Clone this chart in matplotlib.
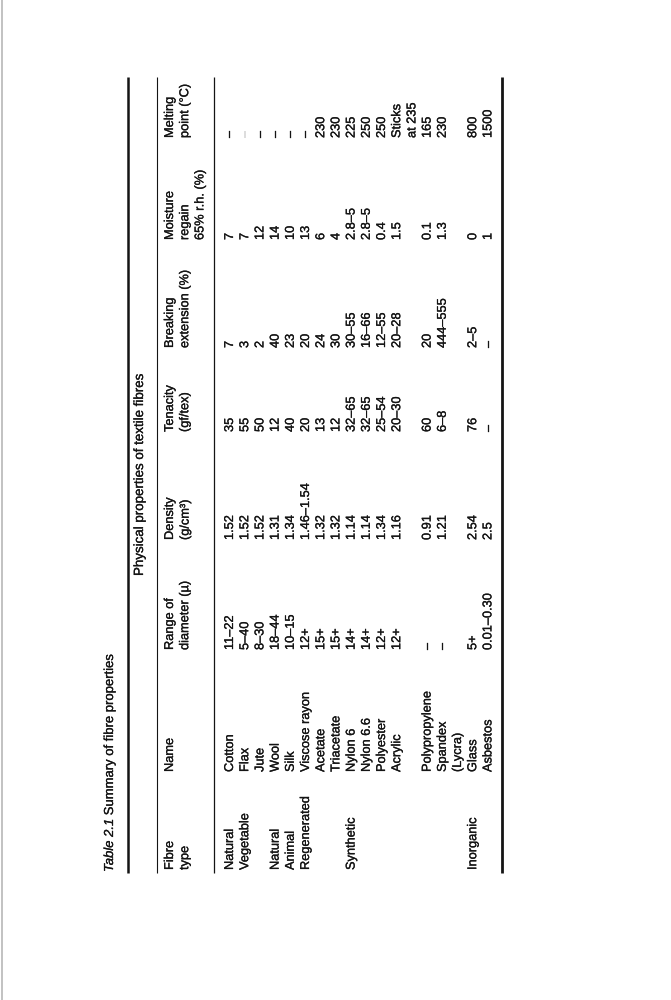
import matplotlib
matplotlib.use("Agg")
import matplotlib.pyplot as plt
import matplotlib.patheffects as pe

plt.rcParams['font.family'] = ['Liberation Sans', 'DejaVu Sans']

# Datos de la tabla (una entrada por fibra)
tipos = [("Natural\nVegetable", 0), ("Natural\nAnimal", 3), ("Regenerated", 5),
         ("Synthetic", 8), ("Inorganic", 14)]
nombres = ["Cotton", "Flax", "Jute", "Wool", "Silk", "Viscose rayon", "Acetate",
           "Triacetate", "Nylon 6", "Nylon 6.6", "Polyester", "Acrylic",
           "Polypropylene", "Spandex\n(Lycra)", "Glass", "Asbestos"]
diametro = ["11–22", "5–40", "8–30", "18–44", "10–15", "12+", "15+", "15+", "14+",
            "14+", "12+", "12+", "–", "–", "5+", "0.01–0.30"]
densidad = ["1.52", "1.52", "1.52", "1.31", "1.34", "1.46–1.54", "1.32", "1.32",
            "1.14", "1.14", "1.34", "1.16", "0.91", "1.21", "2.54", "2.5"]
tenacidad = ["35", "55", "50", "12", "40", "20", "13", "12", "32–65", "32–65",
             "25–54", "20–30", "60", "6–8", "76", "–"]
extension = ["7", "3", "2", "40", "23", "20", "24", "30", "30–55", "16–66",
             "12–55", "20–28", "20", "444–555", "2–5", "–"]
humedad = ["7", "7", "12", "14", "10", "13", "6", "4", "2.8–5", "2.8–5", "0.4",
           "1.5", "0.1", "1.3", "0", "1"]
fusion = ["–", "–", "–", "–", "–", "–", "230", "230", "225", "250", "250",
          "Sticks\nat 235", "165", "230", "800", "1500"]

encabezados = ["Fibre\ntype", "Name", "Range of\ndiameter (µ)", "Density\n(g/cm³)",
               "Tenacity\n(gf/tex)", "Breaking\nextension (%)",
               "Moisture\nregain\n65% r.h. (%)", "Melting\npoint (°C)"]
titulo_num = "Table 2.1"
titulo = "Summary of fibre properties"
subtitulo = "Physical properties of textile fibres"

# Geometria de la pagina (pixeles, tabla girada 90 grados)
col_inicio = [870, 772, 650, 540, 432, 348, 240, 138]
x_fila0 = 230
paso = 15.2
x_cab = 170
regla_arriba, regla_abajo = 77, 873
color = '#141414'
fs = 9.2
grosor = [pe.withStroke(linewidth=0.2, foreground=color)]

fig = plt.figure(figsize=(6.71, 10), dpi=100)
ax = fig.add_axes([0, 0, 1, 1])
ax.set_xlim(0, 671)
ax.set_ylim(1000, 0)
ax.axis('off')


def escribir(x, y, texto, tam=fs, **kw):
    # texto girado: se lee de abajo hacia arriba, alineado por el inicio
    for j, linea in enumerate(texto.split("\n")):
        ax.text(x + j * paso, y, linea, rotation=90, rotation_mode='anchor',
                ha='left', va='center', fontsize=tam, color=color,
                path_effects=grosor, **kw)


# Linea de cada fila: las celdas de dos lineas empujan las filas siguientes
lineas = []
n = 0
for i in range(len(nombres)):
    lineas.append(n)
    n += 1 + max(nombres[i].count("\n"), fusion[i].count("\n"))

# Titulo
t1 = ax.text(110, 872, titulo_num, rotation=90, rotation_mode='anchor', ha='left',
             va='center', fontsize=9.4, color=color, style='italic',
             path_effects=grosor)
ax.annotate(" " + titulo, xy=(0.5, 1.0), xycoords=t1, rotation=90,
            rotation_mode='anchor', ha='left', va='center', fontsize=9.4,
            color=color, path_effects=grosor)

# Reglas
ax.vlines(128, regla_arriba, regla_abajo, color=color, lw=1.8)
ax.vlines(157, regla_arriba, regla_abajo, color=color, lw=0.8)
ax.vlines(214, regla_arriba, regla_abajo, color=color, lw=0.9)
ax.vlines(502, regla_arriba, regla_abajo, color=color, lw=2.0)
ax.vlines(2, 0, 1000, color='#b8b8b8', lw=1.2)

escribir(140, 576, subtitulo, tam=9.6)

for y, cab in zip(col_inicio, encabezados):
    escribir(x_cab, y, cab)

for texto, fila in tipos:
    escribir(x_fila0 + lineas[fila] * paso, col_inicio[0], texto)

columnas = [nombres, diametro, densidad, tenacidad, extension, humedad, fusion]
for y, col in zip(col_inicio[1:], columnas):
    for i, valor in enumerate(col):
        escribir(x_fila0 + lineas[i] * paso, y, valor)

fig.savefig("out.png", dpi=100, facecolor='white')
